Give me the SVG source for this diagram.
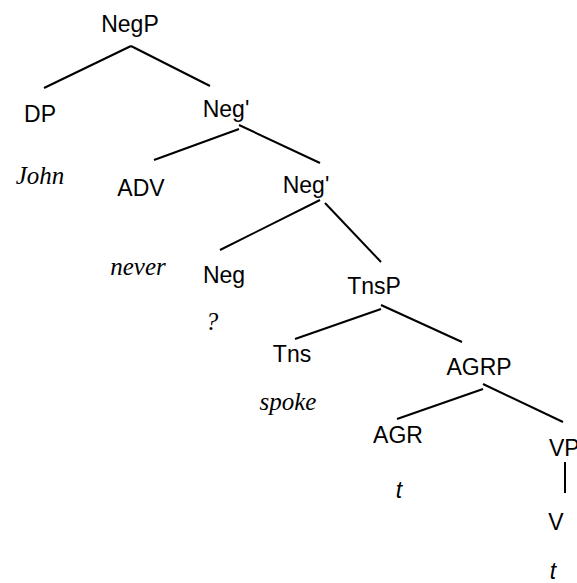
<svg xmlns="http://www.w3.org/2000/svg" width="577" height="583" viewBox="0 0 577 583">
<style>
.n{font-family:"Liberation Sans",Arial,sans-serif;font-size:23px;fill:#000;text-anchor:middle}
.w{font-family:"Liberation Serif","Times New Roman",serif;font-style:italic;font-size:25px;fill:#000;text-anchor:middle}
.t{font-family:"Liberation Sans",Arial,sans-serif;font-style:italic;font-size:23px;fill:#000;text-anchor:middle}
.e line{stroke:#000;stroke-width:2}
</style>
<rect width="577" height="583" fill="#fff"/>
<g id="edges" class="e">
<line x1="131" y1="46" x2="44" y2="88"/>
<line x1="131" y1="46" x2="210" y2="86"/>
<line x1="239" y1="129" x2="154" y2="160"/>
<line x1="239" y1="125" x2="320" y2="163"/>
<line x1="320" y1="200" x2="220" y2="250"/>
<line x1="325" y1="203" x2="381" y2="262"/>
<line x1="381" y1="309" x2="295" y2="339"/>
<line x1="381" y1="305" x2="462" y2="342"/>
<line x1="483" y1="389" x2="397" y2="419"/>
<line x1="483" y1="384" x2="563" y2="422"/>
<line x1="565" y1="462" x2="565" y2="493"/>
</g>
<g id="NegP"><text class="n" x="130" y="32">NegP</text></g>
<g id="DP"><text class="n" x="40" y="122">DP</text><text class="w" x="40" y="184">John</text></g>
<g id="NegBar1"><text class="n" x="226" y="117">Neg'</text></g>
<g id="ADV"><text class="n" x="141" y="196">ADV</text><text class="w" x="138" y="275">never</text></g>
<g id="NegBar2"><text class="n" x="306" y="193">Neg'</text></g>
<g id="Neg"><text class="n" x="224" y="283">Neg</text><text class="w" x="212" y="330">?</text></g>
<g id="TnsP"><text class="n" x="374" y="294">TnsP</text></g>
<g id="Tns"><text class="n" x="292" y="362">Tns</text><text class="w" x="288" y="410">spoke</text></g>
<g id="AGRP"><text class="n" x="479" y="375">AGRP</text></g>
<g id="AGR"><text class="n" x="398" y="443">AGR</text><text class="t" x="399" y="498">t</text></g>
<g id="VP"><text class="n" x="549" y="456" style="text-anchor:start">VP</text></g>
<g id="V"><text class="n" x="556" y="530">V</text><text class="t" x="553" y="579">t</text></g>
</svg>
